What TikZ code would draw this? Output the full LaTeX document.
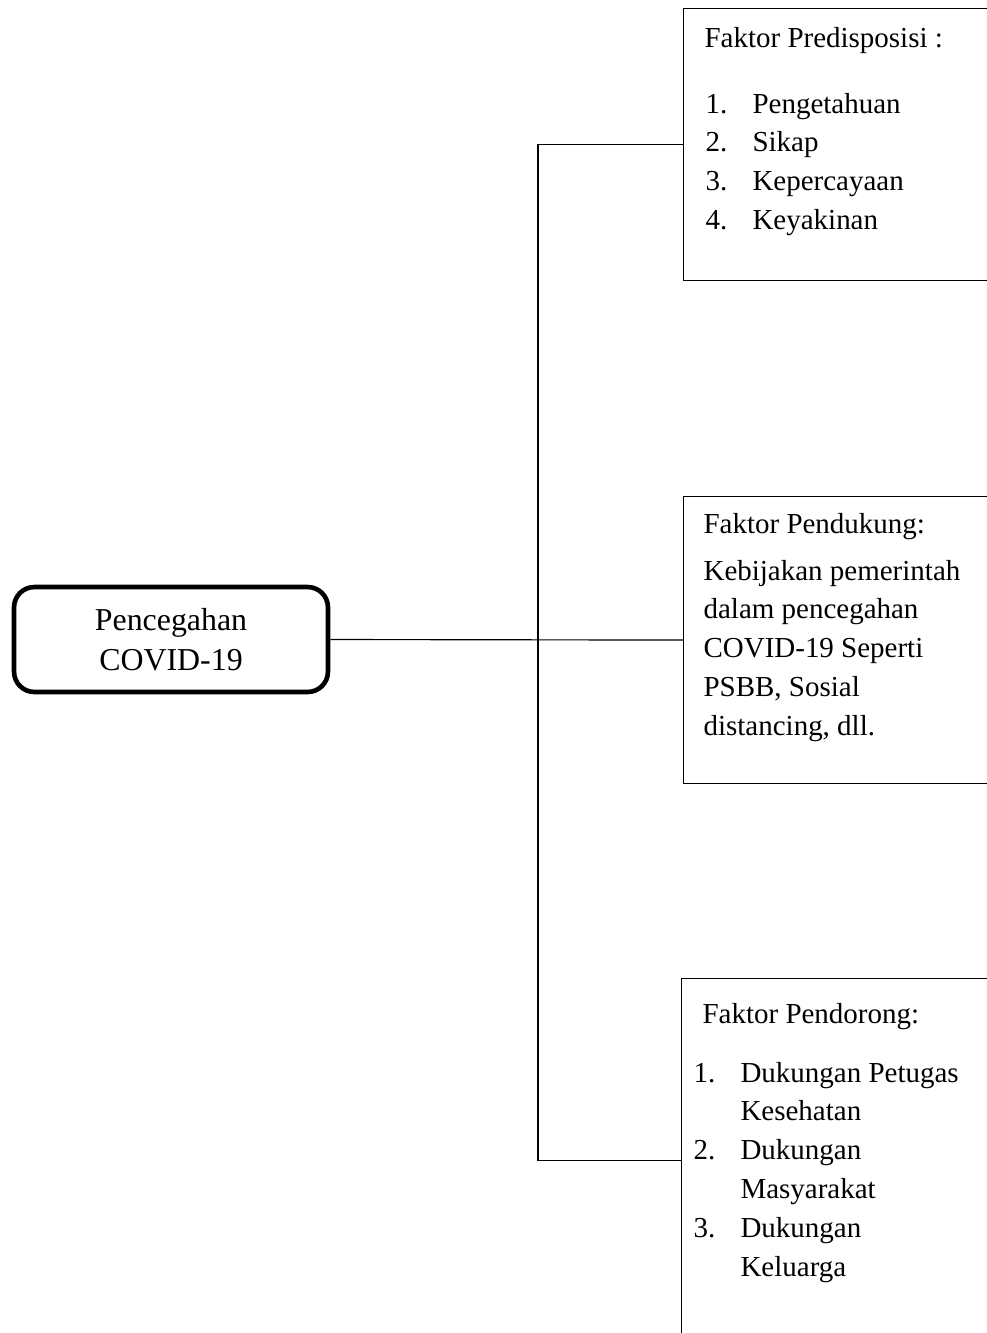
\documentclass[tikz,border=0pt]{standalone}
\usepackage{fontspec}
\setmainfont{Liberation Serif}
\usetikzlibrary{positioning}
\newcommand\itemno[2]{\makebox[16.2pt][l]{#1}#2}
\newcommand\lines[1]{\begin{tabular}[t]{@{}l@{}}#1\end{tabular}}
\tikzset{
    font=\fontsize{10}{13.4}\selectfont,
    line width=0.8pt,
    root/.style={draw, rounded corners=7pt, line width=1.6pt, minimum width=108.3pt,
        minimum height=36.2pt, align=center, font=\fontsize{11}{13.8}\selectfont},
    factor/.style={draw, rectangle, anchor=north west, minimum width=120pt, inner sep=0pt},
    txt/.style={anchor=base west, inner sep=0pt}
}
\begin{document}
\begin{tikzpicture}[x=0.345pt, y=-0.345pt]
    \useasboundingbox (0,0) rectangle (987,1333);
    \clip (0,0) rectangle (987,1333);

    \node[root] (cegah) at (171,639.5) {Pencegahan\\COVID-19};
    \node[factor, minimum height=93.8pt] (predis) at (683,8) {};
    \node[factor, minimum height=99pt] (dukung) at (683,496) {};
    \node[factor, minimum height=125.6pt] (dorong) at (681,978) {};
    \coordinate (fork) at (538,639.5);

    \draw (cegah.east) -- (dukung.west);
    \draw (predis.west) -| (fork) |- (dorong.west);

    % isi kotak faktor
    \node[txt] (predisT) at (704,47) {Faktor Predisposisi :};
    \node[txt] (predisL) at (705,113) {\lines{\itemno{1.}{Pengetahuan}\\\itemno{2.}{Sikap}\\
        \itemno{3.}{Kepercayaan}\\\itemno{4.}{Keyakinan}}};
    \node[txt] (dukungT) at (703,533) {Faktor Pendukung:};
    \node[txt] (dukungL) at (703,580) {\lines{Kebijakan pemerintah\\dalam pencegahan\\
        COVID-19 Seperti\\PSBB, Sosial\\distancing, dll.}};
    \node[txt] (dorongT) at (702,1023) {Faktor Pendorong:};
    \node[txt] (dorongL) at (693,1082) {\lines{\itemno{1.}{Dukungan Petugas}\\\itemno{}{Kesehatan}\\
        \itemno{2.}{Dukungan}\\\itemno{}{Masyarakat}\\\itemno{3.}{Dukungan}\\\itemno{}{Keluarga}}};
\end{tikzpicture}
\end{document}
